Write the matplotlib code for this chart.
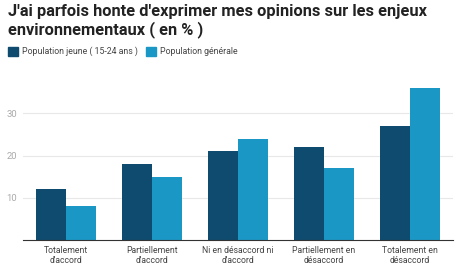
import matplotlib
matplotlib.use("Agg")
import matplotlib.pyplot as plt
import numpy as np
from matplotlib.patches import Rectangle

categories = ["Totalement\nd'accord", "Partiellement\nd'accord", "Ni en désaccord ni\nd'accord",
              "Partiellement en\ndésaccord", "Totalement en\ndésaccord"]
jeune = [12, 18, 21, 22, 27]
generale = [8, 15, 24, 17, 36]
series_names = ["Population jeune ( 15-24 ans )", "Population générale"]
yticks = [10, 20, 30]

plt.rcParams['font.family'] = ['Roboto', 'DejaVu Sans']
dark = "#0e4b6e"
light = "#1a97c5"

fig = plt.figure(figsize=(4.6, 2.75), dpi=100)
W, H = 460, 275
ax = fig.add_axes([22.7/W, 1-240/H, 430/W, (240-71)/H])
x = np.arange(len(categories))
w = 0.35
ax.bar(x - w/2, jeune, w, color=dark, zorder=3)
ax.bar(x + w/2, generale, w, color=light, zorder=3)
ax.set_xlim(-0.5, len(categories)-0.5)
ax.set_ylim(0, 40)
ax.set_yticks(yticks)
ax.yaxis.grid(True, color="#e8e8e8", linewidth=0.8, zorder=0)
ax.set_xticks(x)
ax.set_xticklabels(categories, fontsize=6.2, color="#444444", linespacing=1.25)
ax.tick_params(axis='x', length=0, pad=4)
ax.tick_params(axis='y', length=0, pad=4, labelsize=6.8, labelcolor="#aaaaaa")
for s in ["top", "right", "left"]:
    ax.spines[s].set_visible(False)
ax.spines["bottom"].set_color("#333333")
ax.spines["bottom"].set_linewidth(0.8)
ax.spines["bottom"].set_zorder(4)

fig.text(8/W, 1-4/H, "J'ai parfois honte d'exprimer mes opinions sur les enjeux\nenvironnementaux ( en % )",
         fontsize=11.8, fontweight='bold', color="#222222", va='top', ha='left', linespacing=1.12)

# legend
lx = 8
for name, col in zip(series_names, [dark, light]):
    fig.patches.append(Rectangle((lx/W, 1-56/H), 10/W, 9/H, transform=fig.transFigure, color=col))
    t = fig.text((lx+14)/W, 1-51.5/H, name, fontsize=6.3, color="#444444", va='center', ha='left')
    fig.canvas.draw()
    bb = t.get_window_extent()
    lx = bb.x1 + 8

fig.savefig("out.png", dpi=100)
